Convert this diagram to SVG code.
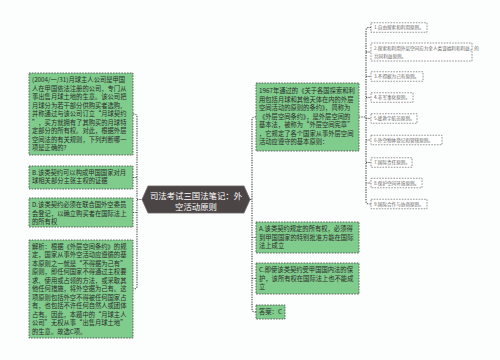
<svg xmlns="http://www.w3.org/2000/svg" width="500" height="360" viewBox="0 0 500 360">
<style>
text{font-family:"Noto Sans CJK SC","Noto Sans",sans-serif;}
.g{fill:#80cc8c;stroke:#555;stroke-width:0.9;stroke-dasharray:1.6 1.2;}
.gt{font-size:6.3px;fill:#2b2b2b;}
.w{fill:#ffffff;stroke:#777;stroke-width:0.8;stroke-dasharray:1.6 1.2;}
.wt{font-size:4.6px;fill:#666;}
.c{fill:none;stroke:#555;stroke-width:1.2;stroke-dasharray:1.3 1.1;}
.ct{font-size:8.4px;fill:#ffffff;text-anchor:middle;}
</style>
<rect width="500" height="360" fill="#fcfefd"/>
<g id="connectors">
<path class="c" d="M133,114 H134 Q137,114 137,117 V286 Q137,289 134,289 H133 M133,177.5 H137 M133,212.5 H137 M137,199.5 H142"/>
<path class="c" d="M250,199.5 H252 M256,117 H255 Q252,117 252,120 V309 Q252,312 255,312 H256 M252,237.5 H256 M252,278.5 H256"/>
<path class="c" d="M359,117 H366 M371,27.5 H369 Q366,27.5 366,30.5 V201 Q366,204 369,204 H371 M366,52 H371 M366,76.5 H371 M366,97.5 H371 M366,118.5 H371 M366,140 H371 M366,162.5 H371 M366,183 H371"/>
</g>
<g id="center">
<path d="M142,199.5 L148,186 H244 L250,199.5 L244,213 H148 Z" fill="#4b4545" stroke="#6a6262" stroke-width="0.8"/>
<text class="ct" x="196" y="199">司法考试三国法笔记：外</text>
<text class="ct" x="196" y="210">空活动原则</text>
</g>
<g id="q">
<rect class="g" x="29" y="73" width="104" height="82"/>
<text class="gt" x="32"><tspan x="32" y="82.4">(2004/一/31)月球主人公司是甲国</tspan><tspan x="32" y="90.9">人在甲国依法注册的公司，专门从</tspan><tspan x="32" y="99.4">事出售月球土地的生意。该公司把</tspan><tspan x="32" y="107.9">月球分为若干部分供购买者选购,</tspan><tspan x="32" y="116.4">并称通过与该公司订立“月球契约</tspan><tspan x="32" y="124.9">”，买方就拥有了其购买的月球特</tspan><tspan x="32" y="133.4">定部分的所有权。对此，根据外层</tspan><tspan x="32" y="141.9">空间法的有关规则，下列判断哪一</tspan><tspan x="32" y="150.4">项是正确的?</tspan></text>
</g>
<g id="b">
<rect class="g" x="29" y="166" width="104" height="23"/>
<text class="gt"><tspan x="32" y="174.6">B.该类契约可以构成甲国国家对月</tspan><tspan x="32" y="183.1">球相关部分主张主权的证据</tspan></text>
</g>
<g id="d">
<rect class="g" x="29" y="198" width="104" height="29"/>
<text class="gt"><tspan x="32" y="207.4">D.该类契约必须在联合国外空委员</tspan><tspan x="32" y="215.9">会登记，以确立购买者在国际法上</tspan><tspan x="32" y="224.4">的所有权</tspan></text>
</g>
<g id="jiexi">
<rect class="g" x="29" y="240" width="104" height="98"/>
<text class="gt"><tspan x="32" y="248.9">解析：根据《外层空间条约》的规</tspan><tspan x="32" y="257.4">定，国家从事外空活动应遵循的基</tspan><tspan x="32" y="265.9">本原则之一就是“不得据为己有”</tspan><tspan x="32" y="274.4">原则，即任何国家不得通过主权要</tspan><tspan x="32" y="282.9">求、使用或占领的方法，或采取其</tspan><tspan x="32" y="291.4">他任何措施，将外空据为己有。这</tspan><tspan x="32" y="299.9">项原则包括外空不得被任何国家占</tspan><tspan x="32" y="308.4">有，也包括不许任何自然人或团体</tspan><tspan x="32" y="316.9">占有。因此，本题中的“月球主人</tspan><tspan x="32" y="325.4">公司”无权从事“出售月球土地”</tspan><tspan x="32" y="333.9">的生意。故选C项。</tspan></text>
</g>
<g id="treaty">
<rect class="g" x="256" y="83" width="103" height="68"/>
<text class="gt"><tspan x="259" y="93.4">1967年通过的《关于各国探索和利</tspan><tspan x="259" y="101.9">用包括月球和其他天体在内的外层</tspan><tspan x="259" y="110.4">空间活动的原则的条约》，简称为</tspan><tspan x="259" y="118.9">《外层空间条约》，是外层空间的</tspan><tspan x="259" y="127.4">基本法，被称为“外层空间宪章”</tspan><tspan x="259" y="135.9">，它规定了各个国家从事外层空间</tspan><tspan x="259" y="144.4">活动应遵守的基本原则：</tspan></text>
</g>
<g id="a">
<rect class="g" x="256" y="222" width="103" height="31"/>
<text class="gt"><tspan x="259" y="231.4">A.该类契约规定的所有权，必须得</tspan><tspan x="259" y="239.9">到甲国国家的特别批准方能在国际</tspan><tspan x="259" y="248.4">法上成立</tspan></text>
</g>
<g id="c">
<rect class="g" x="256" y="263" width="103" height="31"/>
<text class="gt"><tspan x="259" y="272.4">C.即使该类契约受甲国国内法的保</tspan><tspan x="259" y="280.9">护，该所有权在国际法上也不能成</tspan><tspan x="259" y="289.4">立</tspan></text>
</g>
<g id="answer">
<rect class="g" x="256" y="305" width="29" height="14"/>
<text class="gt" x="259" y="314.4">答案：C</text>
</g>
<g id="p1"><rect class="w" x="371" y="22.75" width="56" height="9.5"/><text class="wt" x="374" y="29.2">1.自由探索和利用原则。</text></g>
<g id="p2"><rect class="w" x="371" y="43" width="101" height="18"/><text class="wt"><tspan x="374" y="49.5">2.探索和利用外层空间应为全人类谋福利和利益，的</tspan><tspan x="374" y="57.5">共同利益原则。</tspan></text></g>
<g id="p3"><rect class="w" x="371" y="71.75" width="52" height="9.5"/><text class="wt" x="374" y="78.2">3.不得据为己有原则。</text></g>
<g id="p4"><rect class="w" x="371" y="92.75" width="42" height="9.5"/><text class="wt" x="374" y="99.2">4.非军事化原则。</text></g>
<g id="p5"><rect class="w" x="371" y="113.75" width="46" height="9.5"/><text class="wt" x="374" y="120.2">5.援救宇航员原则。</text></g>
<g id="p6"><rect class="w" x="371" y="135.25" width="71" height="9.5"/><text class="wt" x="374" y="141.7">6.外空物体登记和管辖原则。</text></g>
<g id="p7"><rect class="w" x="371" y="157.75" width="41" height="9.5"/><text class="wt" x="374" y="164.2">7.国际责任原则。</text></g>
<g id="p8"><rect class="w" x="371" y="178.25" width="51" height="9.5"/><text class="wt" x="374" y="184.7">8.保护空间环境原则。</text></g>
<g id="p9"><rect class="w" x="371" y="199.25" width="56" height="9.5"/><text class="wt" x="374" y="205.7">9.国际合作与协商原则。</text></g>
</svg>
